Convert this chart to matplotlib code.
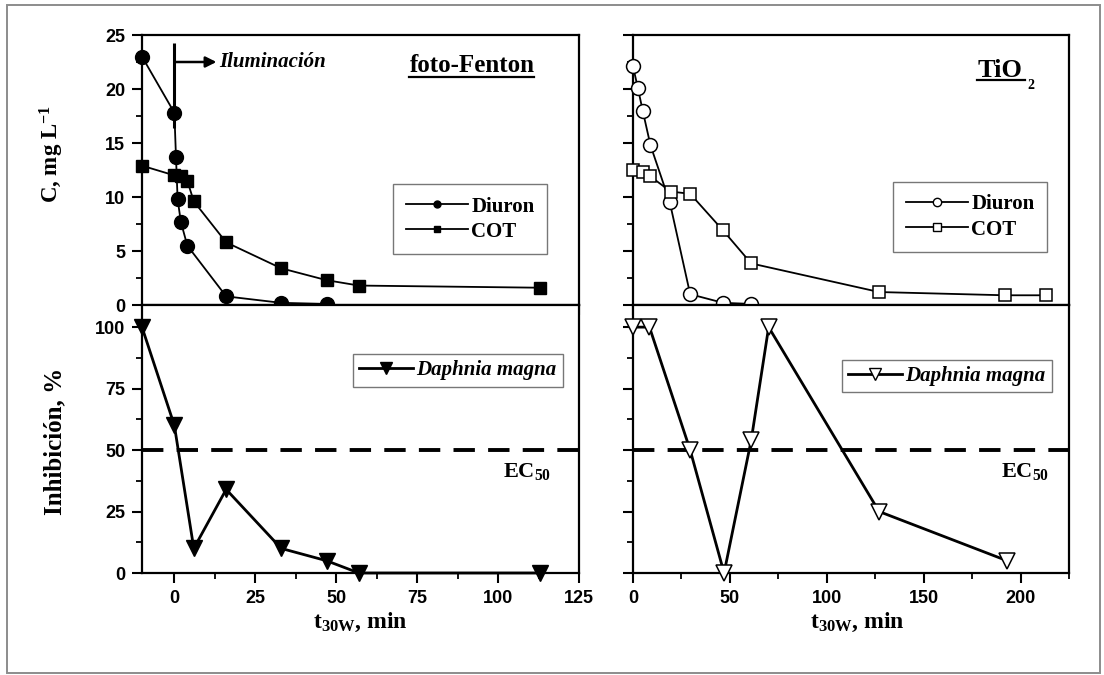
import matplotlib
matplotlib.use("Agg")
import matplotlib.pyplot as plt
from matplotlib.lines import Line2D
from matplotlib.patches import Rectangle
from matplotlib.ticker import MultipleLocator
from matplotlib.transforms import IdentityTransform

# ---- data -------------------------------------------------------------
# photo-Fenton
ff_t_diuron = [-10, 0, 0.5, 1, 2, 4, 16, 33, 47]
ff_diuron = [23.0, 17.8, 13.7, 9.8, 7.7, 5.5, 0.8, 0.2, 0.1]
ff_t_cot = [-10, 0, 2, 4, 6, 16, 33, 47, 57, 113]
ff_cot = [12.9, 12.0, 11.9, 11.5, 9.6, 5.8, 3.4, 2.3, 1.8, 1.6]
ff_t_tox = [-10, 0, 6, 16, 33, 47, 57, 113]
ff_tox = [100, 60, 10, 34, 10, 5, 0, 0]

# TiO2
tio_t_diuron = [0, 2.5, 5, 9, 19, 29.5, 46.5, 61]
tio_diuron = [22.1, 20.1, 18.0, 14.8, 9.5, 1.0, 0.2, 0.1]
tio_t_cot = [0, 5, 9, 19.5, 29.5, 46.5, 61, 127, 192, 213]
tio_cot = [12.5, 12.3, 11.9, 10.5, 10.3, 6.9, 3.85, 1.2, 0.9, 0.9]
tio_t_tox = [0, 8.5, 29.5, 47, 61, 70, 127, 193]
tio_tox = [100, 100, 50, 0, 54, 100, 25, 5]

ec50 = 50
light_on = 0

ff_xticks = [0, 25, 50, 75, 100, 125]
tio_xticks = [0, 50, 100, 150, 200]
conc_yticks = [0, 5, 10, 15, 20, 25]
inh_yticks = [0, 25, 50, 75, 100]

# ---- style ------------------------------------------------------------
plt.rcParams["font.family"] = ["Liberation Sans", "DejaVu Sans"]
plt.rcParams["font.weight"] = "bold"
plt.rcParams["mathtext.fontset"] = "custom"
plt.rcParams["mathtext.rm"] = "Liberation Serif:bold"
plt.rcParams["mathtext.bf"] = "Liberation Serif:bold"
plt.rcParams["mathtext.it"] = "Liberation Serif:italic:bold"

SERIF = ["Liberation Serif", "DejaVu Serif"]

W, H = 1104, 675
fig = plt.figure(figsize=(W / 100, H / 100), dpi=100)

L1, R1 = 142 / W, 579 / W
L2, R2 = 633 / W, 1069 / W
TOP, MID, BOT = 1 - 35 / H, 1 - 305 / H, 1 - 573 / H

ax_tl = fig.add_axes([L1, MID, R1 - L1, TOP - MID])
ax_tr = fig.add_axes([L2, MID, R2 - L2, TOP - MID])
ax_bl = fig.add_axes([L1, BOT, R1 - L1, MID - BOT])
ax_br = fig.add_axes([L2, BOT, R2 - L2, MID - BOT])

# outer frame
fig.patches.append(Rectangle((7 / W, 2 / H), (1100 - 7) / W, (673 - 5) / H,
                             transform=fig.transFigure, fill=False,
                             edgecolor="#8c8c8c", linewidth=1.4))


def style(ax, xmaj, xmin, ymaj, ymin, xlabels, ylabels):
    for s in ax.spines.values():
        s.set_linewidth(1.6)
    ax.xaxis.set_major_locator(MultipleLocator(xmaj))
    ax.xaxis.set_minor_locator(MultipleLocator(xmin))
    ax.yaxis.set_major_locator(MultipleLocator(ymaj))
    ax.yaxis.set_minor_locator(MultipleLocator(ymin))
    ax.tick_params(which="major", direction="out", length=7, width=1.5,
                   labelsize=13, pad=5)
    ax.tick_params(which="minor", direction="out", length=4, width=1.3)
    ax.tick_params(labelbottom=xlabels, labelleft=ylabels)


def box_legend(ax, handles, labels, anchor, italic=False, hlen=3.0, bpad=0.6):
    leg = ax.legend(handles, labels, loc="upper right", bbox_to_anchor=anchor,
                    borderaxespad=0, fancybox=False, edgecolor="#555555",
                    handlelength=hlen, handletextpad=0.15, borderpad=bpad,
                    labelspacing=0.25,
                    prop=dict(family=SERIF, weight="bold", size=15,
                              style="italic" if italic else "normal"))
    leg.get_frame().set_linewidth(1.0)
    return leg


# ---- top left: photo-Fenton concentrations -----------------------------
ax = ax_tl
ax.plot(ff_t_diuron, ff_diuron, "-o", color="black", lw=1.3, ms=10,
        clip_on=False, zorder=3)
ax.plot(ff_t_cot, ff_cot, "-s", color="black", lw=1.3, ms=9,
        clip_on=False, zorder=3)
ax.set_xlim(-10, 125)
ax.set_ylim(0, 25)
style(ax, 25, 12.5, 5, 2.5, False, True)
ax.set_yticks(conc_yticks)
ax.set_ylabel("C, mg L$^{-1}$", family=SERIF, fontsize=16.5, weight="bold")
ax.yaxis.set_label_coords(-0.174, 0.56)

ax.plot([light_on, light_on], [24.3, 16.4], color="black", lw=2.2,
        solid_capstyle="butt", zorder=4)
ax.annotate("", xy=(13, 22.5), xytext=(light_on, 22.5),
            arrowprops=dict(arrowstyle="-|>", lw=1.8, color="black",
                            mutation_scale=16, shrinkA=0, shrinkB=0))
ax.text(14, 22.5, "Iluminación", family=SERIF, style="italic",
        weight="bold", fontsize=15, ha="left", va="center")
t_ff = ax.text(0.755, 0.864, "foto-Fenton", transform=ax.transAxes,
               family=SERIF, weight="bold", fontsize=18, ha="center",
               va="baseline")

box_legend(ax, [Line2D([], [], color="black", lw=1.3, marker="o", ms=5),
                Line2D([], [], color="black", lw=1.3, marker="s", ms=5)],
           ["Diuron", "COT"], (0.927, 0.448))

# ---- top right: TiO2 concentrations ------------------------------------
ax = ax_tr
ax.plot(tio_t_diuron, tio_diuron, "-o", color="black", mfc="white", mew=1.1,
        lw=1.3, ms=10, clip_on=False, zorder=3)
ax.plot(tio_t_cot, tio_cot, "-s", color="black", mfc="white", mew=1.1,
        lw=1.3, ms=9, clip_on=False, zorder=3)
ax.set_xlim(0, 225)
ax.set_ylim(0, 25)
style(ax, 50, 25, 5, 2.5, False, False)
t_tio = ax.text(0.79, 0.846, "TiO", transform=ax.transAxes,
                family=SERIF, weight="bold", fontsize=19, ha="left",
                va="baseline")
ax.text(0.905, 0.80, "2", transform=ax.transAxes, family=SERIF,
        weight="bold", fontsize=10, ha="left", va="baseline")

box_legend(ax, [Line2D([], [], color="black", lw=1.3, marker="o", ms=6,
                       mfc="white"),
                Line2D([], [], color="black", lw=1.3, marker="s", ms=6,
                       mfc="white")],
           ["Diuron", "COT"], (0.95, 0.456))

# ---- bottom left: photo-Fenton toxicity --------------------------------
ax = ax_bl
ax.plot(ff_t_tox, ff_tox, "-v", color="black", lw=2.0, ms=12,
        clip_on=False, zorder=3)
ax.axhline(ec50, color="black", lw=2.8, ls=(0, (5.5, 3.4)), zorder=2)
ax.set_xlim(-10, 125)
ax.set_ylim(0, 109)
style(ax, 25, 12.5, 25, 12.5, True, True)
ax.set_xticks(ff_xticks)
ax.set_yticks(inh_yticks)
ax.set_ylabel("Inhibición, %", family=SERIF, fontsize=18, weight="bold")
ax.yaxis.set_label_coords(-0.174, 0.493)
ax.set_xlabel("t$_{\\mathregular{30W}}$, min", family=SERIF, fontsize=17,
              weight="bold")
ax.xaxis.set_label_coords(0.5, -0.14)
ax.text(0.935, 0.38, "EC$_{50}$", transform=ax.transAxes, family=SERIF,
        weight="bold", fontsize=16, ha="right", va="center")
box_legend(ax, [Line2D([], [], color="black", lw=2.0, marker="v", ms=8)],
           ["Daphnia magna"], (0.963, 0.817), italic=True, hlen=2.6, bpad=0.3)

# ---- bottom right: TiO2 toxicity ---------------------------------------
ax = ax_br
ax.plot(tio_t_tox, tio_tox, "-v", color="black", mfc="white", mew=1.1,
        lw=2.0, ms=12, clip_on=False, zorder=3)
ax.axhline(ec50, color="black", lw=2.8, ls=(0, (5.5, 3.4)), zorder=2)
ax.set_xlim(0, 225)
ax.set_ylim(0, 109)
style(ax, 50, 25, 25, 12.5, True, False)
ax.set_xticks(tio_xticks)
ax.set_xlabel("t$_{\\mathregular{30W}}$, min", family=SERIF, fontsize=17,
              weight="bold")
ax.xaxis.set_label_coords(0.514, -0.14)
ax.text(0.955, 0.38, "EC$_{50}$", transform=ax.transAxes, family=SERIF,
        weight="bold", fontsize=16, ha="right", va="center")
box_legend(ax, [Line2D([], [], color="black", lw=2.0, marker="v", ms=9,
                       mfc="white")],
           ["Daphnia magna"], (0.96, 0.795), italic=True, hlen=2.6, bpad=0.3)

# ---- underlined panel titles -------------------------------------------
fig.canvas.draw()
renderer = fig.canvas.get_renderer()
for txt, ax, ybase, gap, extra in [(t_ff, ax_tl, 0.864, 5, 0),
                                   (t_tio, ax_tr, 0.846, 3, 3)]:
    bb = txt.get_window_extent(renderer)
    y = ax.transAxes.transform((0, ybase))[1] - gap
    fig.add_artist(Line2D([bb.x0, bb.x1 + extra], [y, y],
                          transform=IdentityTransform(),
                          color="black", lw=1.6))

fig.savefig("out.png", dpi=100, facecolor="white")
